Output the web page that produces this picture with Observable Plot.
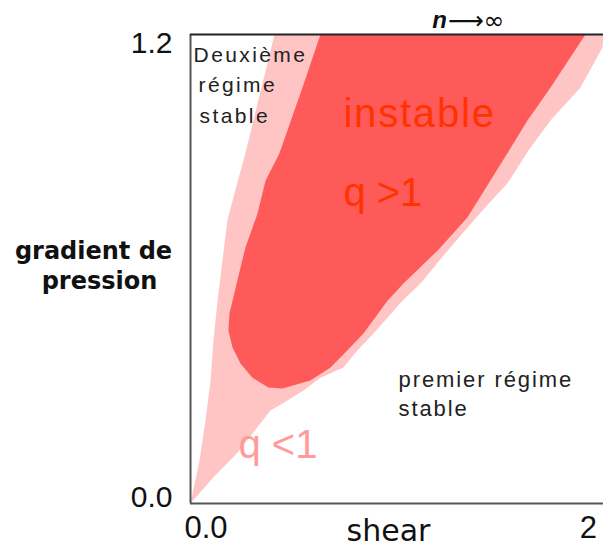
<!DOCTYPE html>
<html><head><meta charset="utf-8">
<script src="https://cdn.jsdelivr.net/npm/d3@7"></script>
<script src="https://cdn.jsdelivr.net/npm/@observablehq/plot@0.6"></script>
<style>
html,body{margin:0;padding:0;background:#fff;overflow:hidden}
#chart svg{display:block}
.sp25 text{letter-spacing:2.4px}
.sp18 text{letter-spacing:1.8px}
.sp19 text{letter-spacing:1.9px}
</style></head><body><div id="chart"></div>
<script>
// outer (light pink) unstable region, n -> infinity
const outerX = [0,0.044,0.073,0.098,0.112,0.132,0.156,0.180,0.225,0.268,0.346,0.410,2.015,2.015,2.010,1.902,1.756,1.649,1.546,1.424,1.254,1.122,1.034,0.893,0.815,0.746,0.634,0.551,0.449,0.390,0.229,0.112,0];
const outerY = [0,0.110,0.212,0.315,0.417,0.519,0.622,0.724,0.814,0.896,1.064,1.2,1.2,1.19,1.167,1.064,0.980,0.903,0.819,0.750,0.647,0.563,0.519,0.435,0.392,0.348,0.322,0.289,0.256,0.238,0.130,0.067,0];
// inner (dark red) region, q > 1
const innerX = [0.634,1.927,1.756,1.644,1.546,1.449,1.351,1.205,1.039,0.961,0.844,0.766,0.683,0.585,0.449,0.380,0.302,0.244,0.205,0.185,0.190,0.229,0.268,0.327,0.366,0.434,0.546,0.634];
const innerY = [1.2,1.2,1.064,0.980,0.896,0.814,0.732,0.647,0.563,0.519,0.435,0.392,0.348,0.315,0.294,0.297,0.322,0.358,0.399,0.443,0.486,0.571,0.655,0.742,0.826,0.896,1.064,1.2];

const xTickValues = [0, 2];
const xTickLabels = ["0.0", "2"];
const yTickValues = [0, 1.2];
const yTickLabels = ["0.0", "1.2"];

const outer = outerX.map((x, i) => ({x, y: outerY[i]}));
const inner = innerX.map((x, i) => ({x, y: innerY[i]}));

const sans = "Liberation Sans, Arial, sans-serif";
const verd = "DejaVu Sans, Verdana, sans-serif";

const chart = Plot.plot({
  width: 603, height: 555,
  marginLeft: 190, marginRight: 0, marginTop: 34, marginBottom: 52,
  x: {domain: [0, 2.015], axis: null},
  y: {domain: [0, 1.2], axis: null},
  style: {background: "white"},
  marks: [
    Plot.line(outer, {x: "x", y: "y", fill: "#ffc4c4", stroke: "none", curve: "linear", clip: "frame"}),
    Plot.line(inner, {x: "x", y: "y", fill: "#ff5a5a", stroke: "none", curve: "linear", clip: "frame"}),
    Plot.ruleX([0], {stroke: "#555", strokeWidth: 2}),
    Plot.ruleY([0], {stroke: "#555", strokeWidth: 2}),
    Plot.ruleY([1.2], {stroke: "#222", strokeWidth: 2}),
    // y tick labels
    Plot.text([yTickLabels[1]], {y: yTickValues[1], frameAnchor: "left", textAnchor: "end", dx: -18, dy: 8.4, fontSize: 30, fontFamily: sans, fill: "#111"}),
    Plot.text([yTickLabels[0]], {y: yTickValues[0], frameAnchor: "left", textAnchor: "end", dx: -18, dy: -6.6, fontSize: 30, fontFamily: sans, fill: "#111"}),
    // x tick labels
    Plot.text([xTickLabels[0]], {x: xTickValues[0], frameAnchor: "bottom", dx: 15.5, dy: 34, fontSize: 31, fontFamily: sans, fill: "#111"}),
    Plot.text([xTickLabels[1]], {x: xTickValues[1], frameAnchor: "bottom", dx: -12, dy: 34, fontSize: 31, fontFamily: sans, fill: "#111"}),
    // axis titles
    Plot.text(["shear"], {x: 0.966, frameAnchor: "bottom", dy: 37.4, fontSize: 30, fontFamily: verd, fill: "#111"}),
    Plot.text(["gradient de"], {frameAnchor: "top-left", dx: -97, dy: 216.4, fontSize: 24, fontWeight: "bold", fontFamily: verd, fill: "#111", textAnchor: "middle", lineAnchor: "middle"}),
    Plot.text(["pression"], {frameAnchor: "top-left", dx: -91, dy: 246.4, fontSize: 24, fontWeight: "bold", fontFamily: verd, fill: "#111", textAnchor: "middle", lineAnchor: "middle"}),
    Plot.text(["n"], {x: 1.18, y: 1.2, dy: -14, fontSize: 24, fontStyle: "italic", fontWeight: "bold", fontFamily: sans, textAnchor: "start", fill: "#111"}),
    Plot.text(["⟶∞"], {x: 1.255, y: 1.2, dy: -14, fontSize: 25, fontFamily: "DejaVu Sans, sans-serif", textAnchor: "start", fill: "#111"}),
    // region annotations
    Plot.text(["Deuxième"], {x: 0.015, y: 1.1456, fontSize: 21, fontFamily: sans, textAnchor: "start", fill: "#222", className: "sp25"}),
    Plot.text(["régime"], {x: 0.039, y: 1.069, fontSize: 21, fontFamily: sans, textAnchor: "start", fill: "#222", className: "sp25"}),
    Plot.text(["stable"], {x: 0.044, y: 0.992, fontSize: 21, fontFamily: sans, textAnchor: "start", fill: "#222", className: "sp25"}),
    Plot.text(["instable"], {x: 0.746, y: 0.995, fontSize: 40, fontFamily: sans, textAnchor: "start", fill: "#ff3300", className: "sp18"}),
    Plot.text(["q >1"], {x: 0.746, y: 0.795, fontSize: 40, fontFamily: sans, textAnchor: "start", fill: "#ff3300"}),
    Plot.text(["q <1"], {x: 0.234, y: 0.148, fontSize: 40, fontFamily: sans, textAnchor: "start", fill: "#ff9b9b"}),
    Plot.text(["premier régime"], {x: 1.015, y: 0.315, fontSize: 22, fontFamily: sans, textAnchor: "start", fill: "#222", className: "sp19"}),
    Plot.text(["stable"], {x: 1.015, y: 0.243, fontSize: 22, fontFamily: sans, textAnchor: "start", fill: "#222", className: "sp19"})
  ]
});
document.getElementById("chart").appendChild(chart);
</script></body></html>
